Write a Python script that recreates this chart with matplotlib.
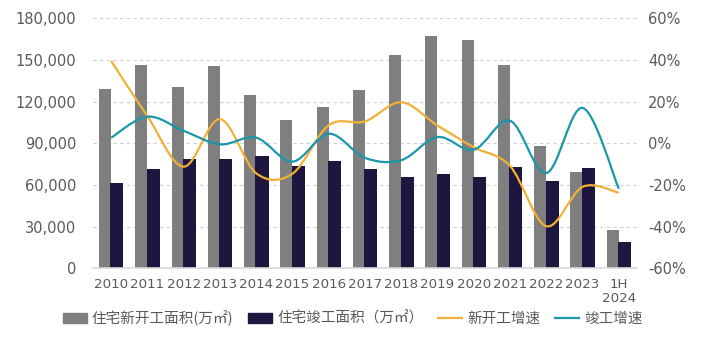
import numpy as np
import matplotlib
matplotlib.use('Agg')
import matplotlib.pyplot as plt
from matplotlib.path import Path
from matplotlib.patches import PathPatch, Patch
from matplotlib.lines import Line2D
from matplotlib.ticker import FuncFormatter, MultipleLocator

# data
years = ['2010', '2011', '2012', '2013', '2014', '2015', '2016', '2017',
         '2018', '2019', '2020', '2021', '2022', '2023', '1H\n2024']
new_start = [129359, 146035, 130695, 145845, 124877, 106651, 115911, 128098,
             153353, 167463, 164329, 146379, 88135, 69286, 27747]
completed = [61216, 71692, 79043, 78741, 80868, 73777, 77185, 71815,
             66016, 68011, 65910, 73016, 62539, 72433, 18863]
new_start_g = [39.5, 13.0, -11.2, 11.6, -14.4, -14.6, 8.7, 10.5,
               19.7, 8.5, -1.9, -10.9, -39.8, -20.9, -23.7]
completed_g = [2.7, 12.8, 6.0, -0.5, 2.7, -8.8, 4.6, -7.0,
               -8.1, 3.0, -3.1, 10.8, -14.3, 17.0, -21.8]

c_grey = '#7f7f7f'
c_navy = '#1d163f'
c_orange = '#f2b134'
c_teal = '#1a97ab'
c_text = '#595959'


def smooth_path(x, y):
    # excel-like smoothed line (catmull-rom as bezier segments)
    n = len(x)
    verts = [(x[0], y[0])]
    codes = [Path.MOVETO]
    for i in range(n - 1):
        p0 = i - 1 if i > 0 else i
        p3 = i + 2 if i + 2 < n else i + 1
        c1 = (x[i] + (x[i + 1] - x[p0]) / 6, y[i] + (y[i + 1] - y[p0]) / 6)
        c2 = (x[i + 1] - (x[p3] - x[i]) / 6, y[i + 1] - (y[p3] - y[i]) / 6)
        verts += [c1, c2, (x[i + 1], y[i + 1])]
        codes += [Path.CURVE4] * 3
    return Path(verts, codes)


fig = plt.figure(figsize=(7.08, 3.49), dpi=100)
ax = fig.add_axes([0.1314, 0.2312, 0.7683, 0.7164])
ax2 = ax.twinx()

x = np.arange(len(years))
ax.bar(x - 0.17, new_start, width=0.33, color=c_grey, zorder=2)
ax.bar(x + 0.16, completed, width=0.36, color=c_navy, zorder=2)

ax2.add_patch(PathPatch(smooth_path(x, new_start_g), fill=False, edgecolor=c_orange, lw=1.6))
ax2.add_patch(PathPatch(smooth_path(x, completed_g), fill=False, edgecolor=c_teal, lw=1.6))

ax.set_xlim(-0.5, len(years) - 0.5)
ax.set_ylim(0, 180000)
ax2.set_ylim(-60, 60)
ax.yaxis.set_major_locator(MultipleLocator(30000))
ax2.yaxis.set_major_locator(MultipleLocator(20))
ax.yaxis.set_major_formatter(FuncFormatter(lambda v, p: '{:,.0f}'.format(v)))
ax2.yaxis.set_major_formatter(FuncFormatter(lambda v, p: '{:.0f}%'.format(v)))

ax.set_xticks(x)
ax.set_xticklabels(years)
ax.set_axisbelow(True)
ax.yaxis.grid(True, ls=(0, (3, 3)), color='#d0d0d0', lw=0.8)

for a in (ax, ax2):
    for s in ['top', 'left', 'right', 'bottom']:
        a.spines[s].set_visible(False)
ax.spines['bottom'].set_visible(True)
ax.spines['bottom'].set_color('#d9d9d9')
ax.spines['bottom'].set_linewidth(1.2)

ax.tick_params(axis='y', length=0, pad=12, labelsize=10.5, labelcolor=c_text)
ax.tick_params(axis='x', length=0, pad=7, labelsize=9.6, labelcolor=c_text)
ax2.tick_params(axis='y', length=0, pad=8, labelsize=10.5, labelcolor=c_text)
for lab in ax.get_xticklabels():
    lab.set_linespacing(1.05)

handles = [Patch(color=c_grey), Patch(color=c_navy),
           Line2D([], [], color=c_orange, lw=1.6), Line2D([], [], color=c_teal, lw=1.6)]
labels = ['住宅新开工面积(万㎡)', '住宅竣工面积（万㎡）', '新开工增速', '竣工增速']
leg = fig.legend(handles, labels, loc='center', bbox_to_anchor=(0.498, 0.089), ncol=4,
                 frameon=False, handlelength=1.65, handletextpad=0.35, columnspacing=1.0,
                 prop={'family': ['Noto Sans CJK SC', 'DejaVu Sans'], 'size': 10.5})
for t in leg.get_texts():
    t.set_color(c_text)

plt.savefig('out.png', dpi=100)
